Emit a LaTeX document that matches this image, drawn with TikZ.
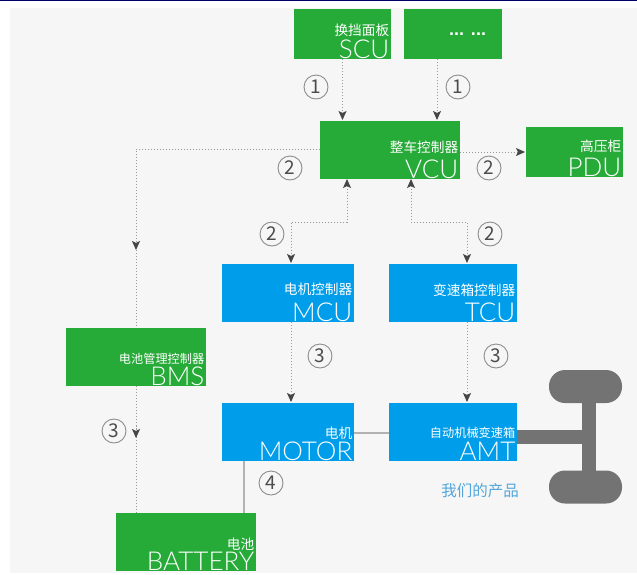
\documentclass[tikz,border=0pt]{standalone}
\usepackage{fontspec}
\setmainfont{Lato}[UprightFont=* Light]
\newfontfamily\cjkfont{Noto Sans CJK SC}
\newfontfamily\dotfont{Liberation Sans}
\usetikzlibrary{arrows.meta,positioning,calc}
\definecolor{boxgreen}{RGB}{38,170,56}
\definecolor{boxblue}{RGB}{0,158,234}
\definecolor{axlegray}{RGB}{115,115,115}
\definecolor{tipgray}{RGB}{70,70,70}
\definecolor{pagegray}{RGB}{246,246,246}
\definecolor{productblue}{RGB}{84,166,218}
\newcommand{\bigname}[1]{{\rmfamily\fontsize{26pt}{26pt}\selectfont #1}}

\begin{document}
\begin{tikzpicture}[
        x=1pt, y=1pt,
        ecu/.style={outer sep=0pt, inner sep=0pt, minimum width=#1, minimum height=58pt},
        greenbox/.style={ecu=#1, fill=boxgreen},
        bluebox/.style={ecu=#1, fill=boxblue},
        boxtext/.style={anchor=south east, align=right, text=white, inner sep=0pt, xshift=-1.5pt, font=\fontsize{13.7pt}{17pt}\cjkfont},
        smalltext/.style={boxtext, font=\fontsize{12.2pt}{17pt}\cjkfont},
        dottedline/.style={draw=black!40, line width=1pt, dash pattern=on 1.2pt off 1.8pt},
        arr/.style={dottedline, shorten >=1pt, -{Stealth[length=9pt,width=8pt,inset=2pt,color=tipgray]}},
        arrboth/.style={arr, {Stealth[length=9pt,width=8pt,inset=2pt,color=tipgray]}-{Stealth[length=9pt,width=8pt,inset=2pt,color=tipgray]}},
        cable/.style={draw=black!30, line width=1.2pt},
        stage/.style={circle, draw=black!45, line width=0.9pt, minimum size=24pt, inner sep=0pt, text=black!70, font=\fontsize{19pt}{19pt}\cjkfont},
        axle/.style={fill=axlegray, inner sep=0pt, outer sep=0pt},
        wheel/.style={axle, rounded corners=16pt, minimum width=73pt, minimum height=33pt}
    ]
        \useasboundingbox (0,0) rectangle (637,-574);
        \fill[white] (0,0) rectangle (637,-574);
        \fill[pagegray] (10,-8) rectangle (637,-573);
        \fill[black!60!blue] (0,0) rectangle (637,-1);

        % top row
        \node[greenbox=97pt, minimum height=50pt] (scu) at (342.5,-34) {};
        \node[greenbox=98pt, minimum height=50pt, right=13pt of scu] (dots) {};
        \node[greenbox=140pt, below=62pt of scu, xshift=47.5pt] (vcu) {};
        \node[greenbox=97pt, minimum height=50pt, right=66pt of vcu, yshift=-2pt] (pdu) {};

        % controllers
        \node[bluebox=132pt, below=85pt of vcu, xshift=-102pt] (mcu) {};
        \node[bluebox=128pt, right=35pt of mcu] (tcu) {};
        \node[greenbox=140pt, left=16pt of mcu, yshift=-64pt] (bms) {};

        % drive line
        \node[bluebox=132pt, below=81pt of mcu] (motor) {};
        \node[bluebox=128pt, below=81pt of tcu] (amt) {};
        \node[greenbox=140pt, below=127pt of bms, xshift=50pt] (battery) {};

        \node[boxtext] (scutext) at (scu.south east) {换挡面板\\[2pt]\bigname{SCU}};
        \node[text=white, font=\bfseries\fontsize{18pt}{18pt}\dotfont] (dotstext) at ($(dots.center)+(14.5,0)$) {...\hspace{7pt}...};
        \node[boxtext] (vcutext) at (vcu.south east) {整车控制器\\[5pt]\bigname{VCU}};
        \node[boxtext] (pdutext) at (pdu.south east) {高压柜\\[5pt]\bigname{PDU}};
        \node[boxtext] (mcutext) at (mcu.south east) {电机控制器\\[6pt]\bigname{MCU}};
        \node[boxtext] (tcutext) at (tcu.south east) {变速箱控制器\\[5pt]\bigname{TCU}};
        \node[smalltext] (bmstext) at (bms.south east) {电池管理控制器\\[2pt]\bigname{BMS}};
        \node[boxtext] (motortext) at (motor.south east) {电机\\[1pt]\bigname{MOTOR}};
        \node[smalltext] (amttext) at (amt.south east) {自动机械变速箱\\[3pt]\bigname{AMT}};
        \node[boxtext] (batterytext) at (battery.south east) {电池\\[1pt]\bigname{BATTERY}};

        % chassis
        \node[wheel] (wheeltop) at (585.5,-386.5) {};
        \node[wheel] (wheelbottom) at (585.5,-487) {};
        \fill[axlegray] ($(wheeltop.south)+(-3.5,0)$) rectangle ($(wheelbottom.north)+(10.5,0)$);
        \coordinate (axlemid) at ($(wheeltop.south)!0.5!(wheelbottom.north)+(-3.5,0)$);
        \draw[axlegray, line width=14pt] (amt.east |- axlemid) -- (axlemid);

        \node[text=productblue, font=\fontsize{15.5pt}{15.5pt}\cjkfont, below=19pt of amt, xshift=27pt] (product) {我们的产品};

        \coordinate (dotsout) at ($(dots.south)+(-16,0)$);
        \coordinate (vculeft) at ($(vcu.south west)+(27,0)$);
        \coordinate (vcuright) at ($(vcu.south west)+(91,0)$);
        \coordinate (mcuin) at ($(mcu.north)+(3,0)$);
        \coordinate (tcuin) at ($(tcu.north)+(14,0)$);
        \coordinate (cablein) at ($(motor.east)+(0,-1)$);

        \draw[arr] (scu.south) -- (scu.south |- vcu.north);
        \draw[arr] (dotsout) -- (dotsout |- vcu.north);
        \draw[arr] ($(vcu.east)+(0,-2)$) -- (pdu.west);
        \draw[arrboth] (vculeft) -- ++(0,-43) -| (mcuin);
        \draw[arrboth] (vcuright) -- ++(0,-43) -| (tcuin);
        \draw[arr] (mcuin |- mcu.south) -- (mcuin |- motor.north);
        \draw[arr] (tcuin |- tcu.south) -- (tcuin |- amt.north);

        % BMS lines carry their arrow half way
        \draw[dottedline] ($(vcu.west)+(0,1)$) -| (bms.north);
        \draw[arr, shorten >=0pt] ($(bms.north)+(0,90)$) -- ++(0,-12);
        \draw[dottedline] (bms.south) -- (bms.south |- battery.north);
        \draw[arr, shorten >=0pt] ($(bms.south)+(0,-40)$) -- ++(0,-12);

        \draw[cable] (cablein) -- (cablein -| amt.west);
        \draw[cable] ($(motor.south west)+(22,0)$) -- ($(motor.south west)+(22,-52)$);

        \node[stage] (one1) at (316,-87) {1};
        \node[stage] (one2) at (458,-87) {1};
        \node[stage] (two1) at (290,-168) {2};
        \node[stage] (two2) at (489,-168) {2};
        \node[stage] (two3) at (272,-234) {2};
        \node[stage] (two4) at (490,-234) {2};
        \node[stage] (three1) at (320,-356) {3};
        \node[stage] (three2) at (496,-356) {3};
        \node[stage] (three3) at (114,-431) {3};
        \node[stage] (four) at (271,-483) {4};
    \end{tikzpicture}
\end{document}
